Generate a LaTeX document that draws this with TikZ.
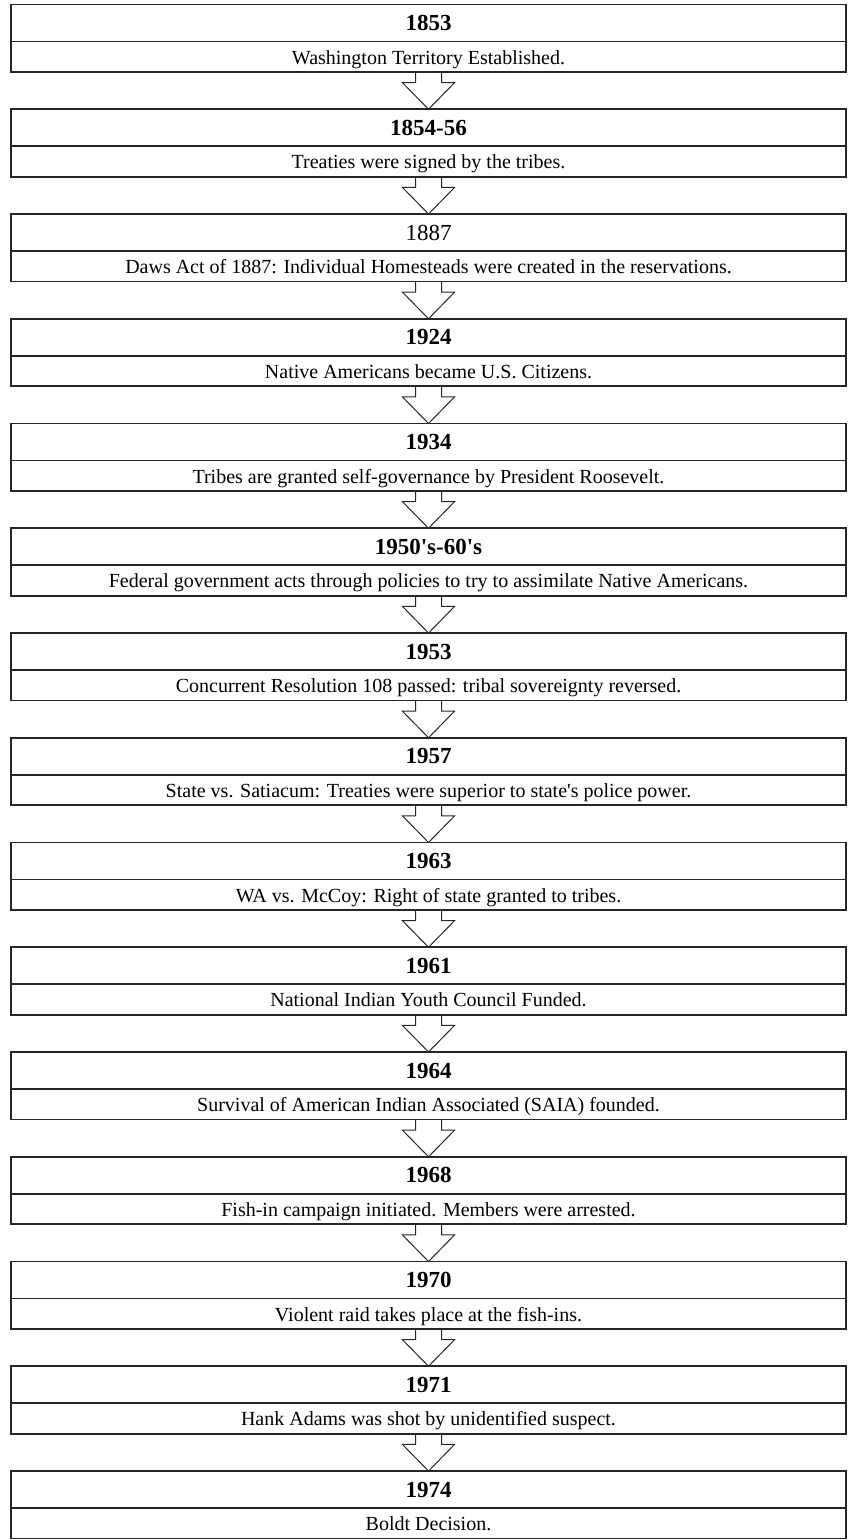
\documentclass[tikz,border=0pt]{standalone}
\usepackage{fontspec}
\setmainfont{Liberation Serif}
\usetikzlibrary{calc,positioning}

\tikzset{
  rowbox/.style={draw=black!85, line width=1.8pt, minimum width=835pt,
    inner sep=0pt, outer sep=0pt, align=center},
  yearbox/.style={rowbox, font=\fontsize{23}{26}\selectfont,
    text height=26pt, text depth=11pt},
  eventbox/.style={rowbox, font=\fontsize{20}{23}\selectfont,
    text height=22.5pt, text depth=8pt},
  hollowarrow/.style={draw=black!85, line width=1pt, line join=miter}
}

\begin{document}
\begin{tikzpicture}[x=1pt,y=-1pt]
\useasboundingbox (0,0) rectangle (851,1540);

% timeline entries: year row on top, event row below
\foreach \yr/\ev [count=\i] in {
  \textbf{1853}/Washington Territory Established.,
  \textbf{1854-56}/Treaties were signed by the tribes.,
  1887/Daws Act of 1887: Individual Homesteads were created in the reservations.,
  \textbf{1924}/Native Americans became U.S. Citizens.,
  \textbf{1934}/Tribes are granted self-governance by President Roosevelt.,
  \textbf{1950\textquotesingle s-60\textquotesingle s}/Federal government acts through policies to try to assimilate Native Americans.,
  \textbf{1953}/Concurrent Resolution 108 passed: tribal sovereignty reversed.,
  \textbf{1957}/State vs. Satiacum: Treaties were superior to state\textquotesingle s police power.,
  \textbf{1963}/WA vs. McCoy: Right of state granted to tribes.,
  \textbf{1961}/National Indian Youth Council Funded.,
  \textbf{1964}/Survival of American Indian Associated (SAIA) founded.,
  \textbf{1968}/Fish-in campaign initiated. Members were arrested.,
  \textbf{1970}/Violent raid takes place at the fish-ins.,
  \textbf{1971}/Hank Adams was shot by unidentified suspect.,
  \textbf{1974}/Boldt Decision.%
} {
  \ifnum\i=1
    \node[yearbox, anchor=north] (y\i) at (428.5,4.5) {\yr};
  \else
    \pgfmathtruncatemacro\prev{\i-1}
    \node[yearbox, below=37.25pt of d\prev] (y\i) {\yr};
  \fi
  \node[eventbox, below=0pt of y\i] (d\i) {\ev};
}

% hollow block arrows between consecutive entries
\foreach \i in {1,...,14} {
  \pgfmathtruncatemacro\nxt{\i+1}
  \draw[hollowarrow] let \p1=(d\i.south), \p2=(y\nxt.north) in
    (\x1-13pt,\y1) -- (\x1-13pt,\y1-10.7pt) -- (\x1-26pt,\y1-10.7pt)
    -- (\x1,\y2) -- (\x1+26pt,\y1-10.7pt) -- (\x1+13pt,\y1-10.7pt)
    -- (\x1+13pt,\y1);
}
\end{tikzpicture}
\end{document}
